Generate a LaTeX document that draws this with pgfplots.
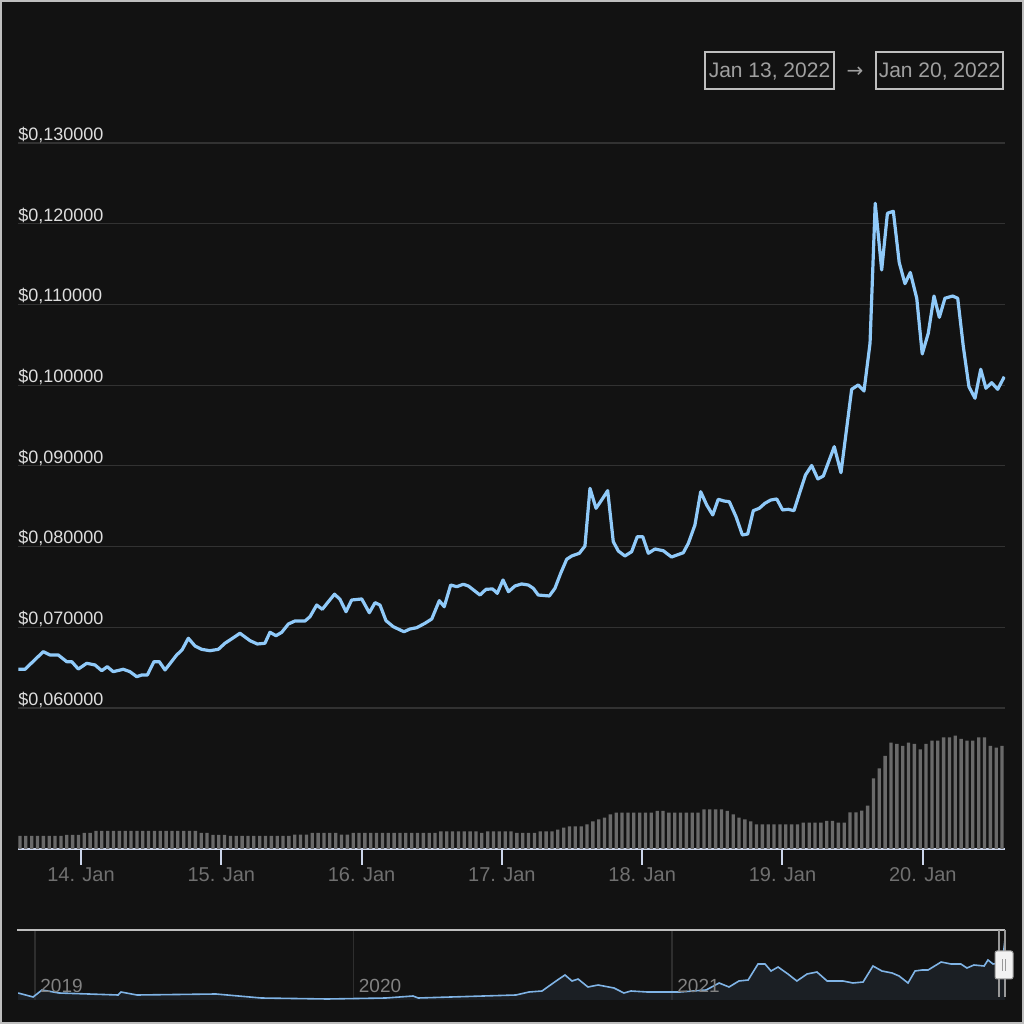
\documentclass[border=0pt]{standalone}
\usepackage{pgfplots}
\pgfplotsset{compat=1.18}
\usepackage{pgfplotstable}
\usepackage{fontspec}
\setmainfont{Liberation Sans}
\newfontfamily\arrowfont{DejaVu Sans}
\definecolor{bgc}{RGB}{18,18,18}
\definecolor{gridc}{RGB}{50,50,50}
\definecolor{ylabc}{RGB}{222,222,222}
\definecolor{xlabc}{RGB}{112,112,112}
\definecolor{axc}{RGB}{204,214,235}
\definecolor{barc}{RGB}{106,106,106}
\definecolor{linec}{RGB}{144,202,249}
\definecolor{boxc}{RGB}{190,190,190}
\definecolor{boxtxt}{RGB}{160,160,160}
\definecolor{navfill}{RGB}{40,48,60}
\definecolor{navline}{RGB}{128,180,230}
\definecolor{navgrid}{RGB}{46,46,46}
\definecolor{navlab}{RGB}{130,130,130}
\definecolor{edgec}{RGB}{190,190,190}
\definecolor{handc}{RGB}{153,153,153}
\definecolor{handf}{RGB}{242,242,242}

% hourly volume (bar heights, arbitrary units)
\pgfplotstableread[row sep=\\]{
v\\13\\13\\13\\13\\13\\13\\13\\13\\14\\14\\14\\16\\16\\
18\\18\\18\\18\\18\\18\\18\\18\\18\\18\\18\\18\\18\\18\\18\\18\\18\\18\\
16\\16\\14\\14\\14\\
13\\13\\13\\13\\13\\13\\13\\13\\13\\13\\13\\
14.3\\14.3\\14.3\\16\\16\\16\\16\\16\\14.3\\14.3\\
16\\16\\16\\16\\16\\16\\16\\16\\16\\16\\16\\16\\16\\16\\16\\
17.7\\17.7\\17.7\\17.7\\17.7\\17.7\\17.7\\16\\17.7\\17.7\\17.7\\17.7\\17.7\\16\\16\\16\\16\\
17.7\\17.7\\17.7\\19.3\\21.3\\22.7\\22.7\\22.7\\24.7\\27.7\\29.7\\31.3\\34.7\\
36.3\\36.3\\36.3\\36.3\\36.3\\36.3\\36.3\\38\\38\\36.3\\36.3\\36.3\\36.3\\36.3\\36.3\\
39.7\\39.7\\39.7\\39.7\\38\\34.7\\31.3\\29.7\\27.7\\
24.7\\24.7\\24.7\\24.7\\24.7\\24.7\\24.7\\24.7\\26.3\\26.3\\26.3\\
26.3\\28\\28\\26.3\\26.3\\36.7\\36.7\\38.3\\43.3\\70.7\\80.7\\93\\106.3\\105\\103\\106.3\\
105\\99.7\\105\\108.3\\108.3\\111.7\\111.7\\113.3\\110\\108.3\\108.3\\111.7\\111.7\\103\\101.3\\103\\
}\voltable

% navigator (years, relative level)
\pgfplotstableread{
x y
2018.947 7
2018.994 3
2019.022 10
2019.075 7
2019.261 5
2019.270 8
2019.320 5
2019.568 6
2019.710 2
2019.917 1
2020.102 2
2020.187 4
2020.203 2
2020.510 5
2020.551 8
2020.592 9
2020.636 19
2020.664 25
2020.686 19
2020.705 21
2020.736 13
2020.768 15
2020.818 12
2020.849 7
2020.871 9
2020.922 8
2021.025 8
2021.107 10
2021.148 17
2021.179 13
2021.210 19
2021.239 20
2021.270 36
2021.292 36
2021.311 29
2021.333 33
2021.364 26
2021.392 19
2021.424 26
2021.455 28
2021.487 19
2021.537 19
2021.568 17
2021.600 18
2021.631 34
2021.659 29
2021.691 27
2021.713 24
2021.741 17
2021.763 29
2021.785 30
2021.804 30
2021.845 38
2021.876 36
2021.907 36
2021.926 32
2021.948 35
2021.980 34
2021.992 40
2022.008 36
2022.030 37
2022.040 45
2022.046 62
2022.052 52
}\navtable

\begin{document}
\begin{tikzpicture}
\useasboundingbox (0,0) rectangle (512bp,512bp);
\fill[bgc] (0,0) rectangle (512bp,512bp);

% ---------- volume + date axis ----------
\begin{axis}[
  at={(9bp,87.5bp)}, anchor=south west,
  scale only axis, width=493.5bp, height=359.5bp,
  xmin=13.551, xmax=20.586, ymin=0, ymax=719,
  axis y line=none, axis x line*=bottom,
  axis line style={axc, line width=1bp},
  xtick={14,15,16,17,18,19,20},
  xticklabels={14. Jan,15. Jan,16. Jan,17. Jan,18. Jan,19. Jan,20. Jan},
  xtick align=outside, major tick length=8bp,
  xtick style={axc, line width=1bp},
  xticklabel style={text=xlabc, font=\fontsize{10bp}{12bp}\selectfont, inner sep=0pt, yshift=-1bp},
  /pgf/number format/assume math mode=true,
  clip=false,
]
\addplot[ybar, bar width=1.65bp, fill=barc, draw=none]
  table[x expr=13.5652+\coordindex/24, y=v] {\voltable};
\end{axis}

% ---------- price axis ----------
\begin{axis}[
  at={(9bp,87.5bp)}, anchor=south west,
  scale only axis, width=493.5bp, height=359.5bp,
  xmin=13.551, xmax=20.586, ymin=0.042528, ymax=0.131623,
  axis line style={draw=none},
  xtick=\empty,
  ytick={0.06,0.07,0.08,0.09,0.10,0.11,0.12,0.13},
  yticklabels={{\$0,060000},{\$0,070000},{\$0,080000},{\$0,090000},{\$0,100000},{\$0,110000},{\$0,120000},{\$0,130000}},
  major tick length=0pt,
  ymajorgrids, major grid style={gridc, line width=0.6bp},
  yticklabel style={text=ylabc, font=\fontsize{9bp}{11bp}\selectfont, anchor=base west, inner sep=0pt, yshift=1.35bp},
  /pgf/number format/assume math mode=true,
]
\addplot[linec, line width=1.6bp, line join=round] coordinates {
(13.553,0.06480)(13.601,0.06480)(13.731,0.06698)(13.779,0.06657)(13.838,0.06657)
(13.898,0.06574)(13.934,0.06574)(13.981,0.06483)(14.041,0.06554)(14.100,0.06533)
(14.148,0.06462)(14.187,0.06512)(14.230,0.06450)(14.301,0.06480)(14.349,0.06450)
(14.397,0.06388)(14.433,0.06409)(14.473,0.06409)(14.520,0.06574)(14.558,0.06574)
(14.599,0.06471)(14.682,0.06657)(14.720,0.06719)(14.765,0.06864)(14.813,0.06768)
(14.860,0.06727)(14.919,0.06710)(14.979,0.06727)(15.026,0.06802)(15.086,0.06871)
(15.133,0.06926)(15.205,0.06834)(15.257,0.06793)(15.311,0.06802)(15.347,0.06938)
(15.390,0.06896)(15.431,0.06938)(15.478,0.07041)(15.525,0.07078)(15.597,0.07078)
(15.632,0.07131)(15.680,0.07276)(15.720,0.07223)(15.763,0.07317)(15.807,0.07410)
(15.846,0.07347)(15.889,0.07193)(15.929,0.07338)(16.001,0.07351)(16.055,0.07181)
(16.096,0.07305)(16.131,0.07276)(16.174,0.07082)(16.226,0.07007)(16.302,0.06945)
(16.345,0.06979)(16.393,0.06995)(16.452,0.07050)(16.500,0.07103)(16.554,0.07330)
(16.589,0.07255)(16.635,0.07524)(16.678,0.07503)(16.725,0.07533)(16.761,0.07512)
(16.844,0.07400)(16.887,0.07471)(16.934,0.07475)(16.967,0.07421)(17.008,0.07586)
(17.047,0.07441)(17.093,0.07512)(17.141,0.07537)(17.188,0.07524)(17.224,0.07483)
(17.259,0.07400)(17.338,0.07388)(17.378,0.07483)(17.419,0.07669)(17.462,0.07843)
(17.498,0.07884)(17.552,0.07917)(17.592,0.08007)(17.628,0.08722)(17.671,0.08475)
(17.711,0.08577)(17.754,0.08693)(17.794,0.08061)(17.830,0.07945)(17.877,0.07884)
(17.925,0.07937)(17.965,0.08123)(18.004,0.08123)(18.044,0.07917)(18.091,0.07970)
(18.150,0.07949)(18.209,0.07871)(18.293,0.07924)(18.329,0.08041)(18.376,0.08268)
(18.417,0.08680)(18.460,0.08515)(18.503,0.08392)(18.542,0.08586)(18.583,0.08565)
(18.621,0.08556)(18.669,0.08370)(18.714,0.08144)(18.752,0.08156)(18.792,0.08445)
(18.835,0.08475)(18.875,0.08537)(18.916,0.08577)(18.959,0.08590)(19.001,0.08454)
(19.041,0.08462)(19.082,0.08445)(19.125,0.08680)(19.164,0.08887)(19.208,0.09005)
(19.252,0.08838)(19.291,0.08875)(19.369,0.09238)(19.417,0.08916)(19.493,0.09949)
(19.540,0.10003)(19.581,0.09928)(19.624,0.10519)(19.661,0.12254)(19.707,0.11428)
(19.748,0.12130)(19.790,0.12155)(19.832,0.11520)(19.873,0.11258)(19.911,0.11397)
(19.957,0.11077)(19.996,0.10387)(20.039,0.10643)(20.080,0.11105)(20.118,0.10841)
(20.158,0.11077)(20.213,0.11105)(20.249,0.11077)(20.289,0.10477)(20.329,0.09981)
(20.372,0.09838)(20.413,0.10197)(20.450,0.09962)(20.491,0.10031)(20.534,0.09949)
(20.581,0.10105)
};
\end{axis}

% ---------- navigator ----------
\begin{axis}[
  at={(9bp,12bp)}, anchor=south west,
  scale only axis, width=493.5bp, height=35bp,
  xmin=2018.9466, xmax=2022.0455, ymin=0, ymax=70,
  axis line style={draw=none},
  xtick={2019,2020,2021}, xticklabels={},
  ytick=\empty, major tick length=0pt,
  xmajorgrids, major grid style={navgrid, line width=0.6bp},
  clip=true,
]
\addplot[fill=navfill, fill opacity=0.45, draw=none] table[x=x,y=y] {\navtable} \closedcycle;
\addplot[navline, line width=0.8bp] table[x=x,y=y] {\navtable};
\node[anchor=base west, text=navlab, inner sep=0pt, font=\fontsize{9.5bp}{11bp}\selectfont, xshift=2.5bp] at (axis cs:2019,8) {2019};
\node[anchor=base west, text=navlab, inner sep=0pt, font=\fontsize{9.5bp}{11bp}\selectfont, xshift=2.5bp] at (axis cs:2020,8) {2020};
\node[anchor=base west, text=navlab, inner sep=0pt, font=\fontsize{9.5bp}{11bp}\selectfont, xshift=2.5bp] at (axis cs:2021,8) {2021};
\end{axis}

% navigator outline and handle
\draw[boxc, line width=1bp] (8.5bp,47bp) -- (502.5bp,47bp);
\draw[handc, line width=0.6bp] (499.5bp,47bp) -- (499.5bp,13.5bp);
\draw[handc, line width=0.6bp] (502.5bp,47bp) -- (502.5bp,13.5bp);
\filldraw[fill=handf, draw=handc, line width=0.5bp, rounded corners=1bp] (497.5bp,22.5bp) rectangle (506.5bp,36.5bp);
\draw[handc, line width=0.5bp] (501bp,26.5bp) -- (501bp,32.5bp);
\draw[handc, line width=0.5bp] (502.8bp,26.5bp) -- (502.8bp,32.5bp);

% range selector boxes
\draw[boxc, line width=1bp] (352.5bp,467.5bp) rectangle (417bp,486bp);
\node[anchor=base, text=boxtxt, inner sep=0pt, font=\fontsize{10.5bp}{12bp}\selectfont] at (384.75bp,473.35bp) {Jan 13, 2022};
\node[anchor=base, text=boxtxt, inner sep=0pt, font=\arrowfont\fontsize{10bp}{12bp}\selectfont] at (427.5bp,473.35bp) {→};
\draw[boxc, line width=1bp] (438bp,467.5bp) rectangle (501.5bp,486bp);
\node[anchor=base, text=boxtxt, inner sep=0pt, font=\fontsize{10.5bp}{12bp}\selectfont] at (469.75bp,473.35bp) {Jan 20, 2022};

% outer frame
\draw[edgec, line width=1bp] (0.5bp,0.5bp) rectangle (511.5bp,511.5bp);
\end{tikzpicture}
\end{document}
